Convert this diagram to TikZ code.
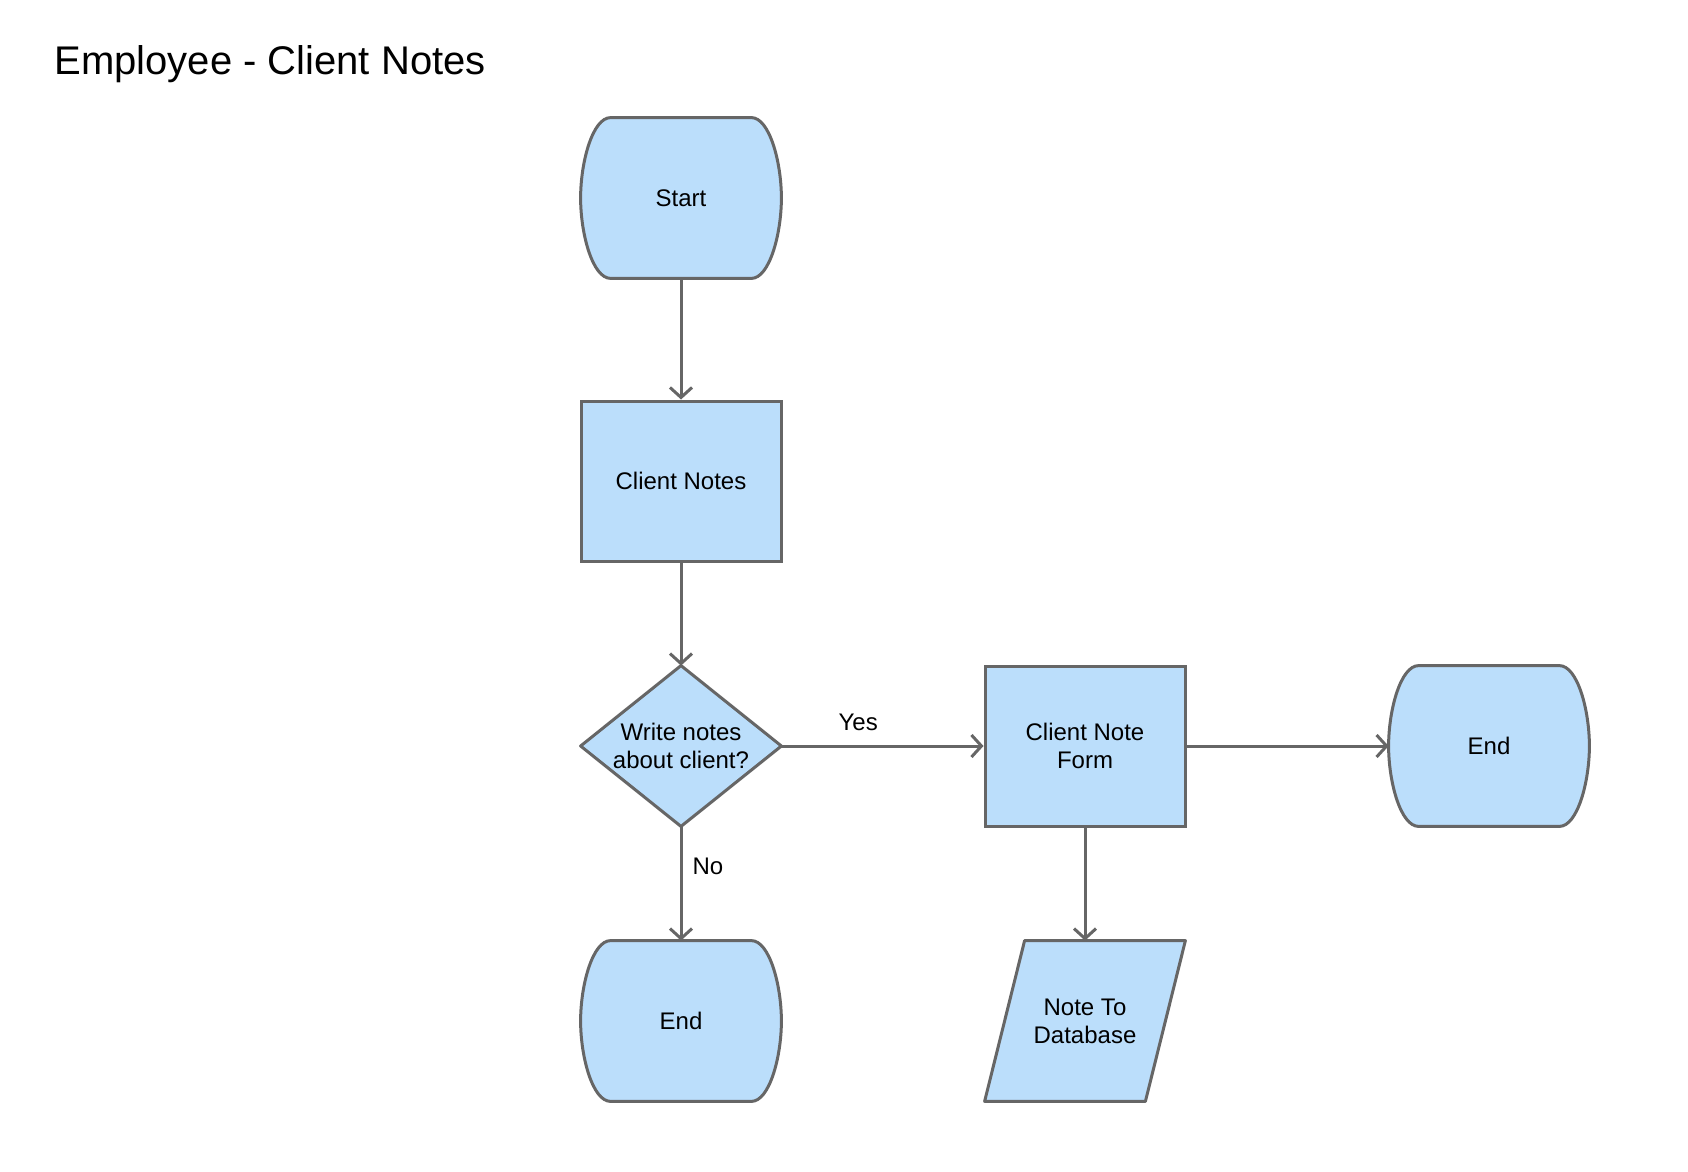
\documentclass[tikz,border=0pt]{standalone}
\usepackage{fontspec}
\setmainfont{Liberation Sans}
\usepackage{tikz}
\usetikzlibrary{arrows.meta, calc, backgrounds}
\definecolor{cfill}{HTML}{BBDEFB}
\definecolor{cline}{HTML}{666666}

\begin{document}
\begin{tikzpicture}[
    x=0.5pt, y=-0.5pt,
    font=\fontsize{12}{14}\selectfont,
    box/.style={
        rectangle, minimum width=100pt, minimum height=80pt,
        inner sep=0pt, align=center
    },
    process/.style={box, draw=cline, fill=cfill, line width=1.5pt},
    outline/.style={draw=cline, fill=cfill, line width=1.5pt, line join=round},
    edge/.style={draw=cline, line width=1.5pt,
        -{Straight Barb[length=5pt,width=11pt]}},
    lbl/.style={inner sep=0pt}
]
\useasboundingbox (0,0) rectangle (1688,1172);

\node[anchor=base west, inner sep=0pt, font=\fontsize{20}{24}\selectfont]
    (title) at (54,75) {Employee - Client Notes};

\node[box]     (start)  at (681,198)  {Start};
\node[process] (notes)  at (681,481)  {Client Notes};
\node[box]     (decide) at (681,746)  {Write notes\\about client?};
\node[process] (form)   at (1085,746) {Client Note\\Form};
\node[box]     (endR)   at (1489,746) {End};
\node[box]     (endB)   at (681,1021) {End};
\node[box]     (db)     at (1085,1021) {Note To\\Database};

\begin{scope}[on background layer]
\foreach \n in {start, endR, endB}
  \draw[outline] ($(\n.north west)+(15pt,0pt)$) -- ($(\n.north east)+(-15pt,0pt)$)
    .. controls ($(\n.north east)+(-6pt,0pt)$) and ($(\n.east)+(0pt,18pt)$) .. (\n.east)
    .. controls ($(\n.east)+(0pt,-18pt)$) and ($(\n.south east)+(-6pt,0pt)$) .. ($(\n.south east)+(-15pt,0pt)$)
    -- ($(\n.south west)+(15pt,0pt)$)
    .. controls ($(\n.south west)+(6pt,0pt)$) and ($(\n.west)+(0pt,-18pt)$) .. (\n.west)
    .. controls ($(\n.west)+(0pt,18pt)$) and ($(\n.north west)+(6pt,0pt)$) .. ($(\n.north west)+(15pt,0pt)$)
    -- cycle;
\draw[outline] (decide.north) -- (decide.east) -- (decide.south) -- (decide.west) -- cycle;
\draw[outline] ($(db.north west)+(20pt,0pt)$) -- (db.north east)
    -- ($(db.south east)+(-20pt,0pt)$) -- (db.south west) -- cycle;
\end{scope}

\draw[edge] (start) -- (notes);
\draw[edge] (notes) -- (decide);
\draw[edge] (decide) -- node[lbl, pos=0.38, above=7pt] {Yes} (form);
\draw[edge] (decide) -- node[lbl, pos=0.35, right=5pt] {No} (endB);
\draw[edge] (form) -- (endR);
\draw[edge] (form) -- (db);
\end{tikzpicture}
\end{document}
